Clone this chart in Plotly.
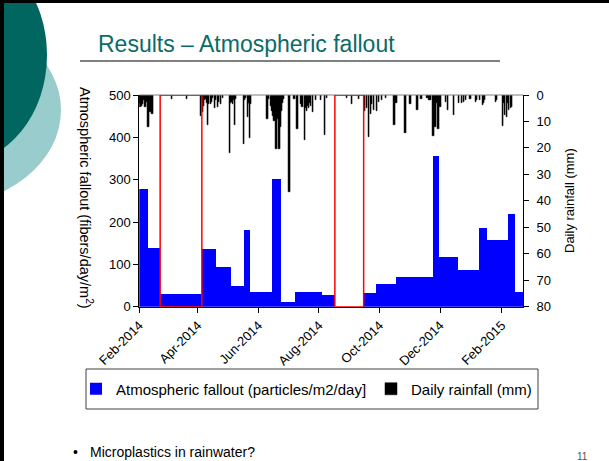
import pandas as pd
import plotly.graph_objects as go

# ---------------- data ----------------
fallout_start = ["2014-02-01", "2014-02-10", "2014-02-22", "2014-04-05", "2014-04-20",
                 "2014-05-05", "2014-05-18", "2014-05-24", "2014-06-15", "2014-06-24",
                 "2014-07-08", "2014-08-04", "2014-08-17", "2014-09-15", "2014-09-28",
                 "2014-10-18", "2014-11-24", "2014-11-30", "2014-12-19", "2015-01-09",
                 "2015-01-18", "2015-02-08", "2015-02-15"]
fallout_end = fallout_start[1:] + ["2015-02-23"]
fallout_value = [278, 139, 30, 136, 94, 49, 181, 35, 302, 12,
                 35, 28, 0, 32, 54, 70, 356, 117, 87, 186,
                 157, 219, 35]

rain_dates = [
    "2014-02-01", "2014-02-02", "2014-02-03", "2014-02-04", "2014-02-05", "2014-02-06",
    "2014-02-07", "2014-02-08", "2014-02-09", "2014-02-10", "2014-02-11", "2014-02-12",
    "2014-02-13", "2014-02-14", "2014-03-06", "2014-03-21",
    "2014-04-04", "2014-04-05", "2014-04-06", "2014-04-07", "2014-04-08", "2014-04-09",
    "2014-04-10", "2014-04-11", "2014-04-12", "2014-04-14", "2014-04-15", "2014-04-16",
    "2014-04-18", "2014-04-19", "2014-04-21", "2014-04-22", "2014-04-24", "2014-04-26",
    "2014-05-03", "2014-05-04", "2014-05-05", "2014-05-06", "2014-05-07", "2014-05-08",
    "2014-05-09", "2014-05-17", "2014-05-18", "2014-05-19", "2014-05-21", "2014-05-22",
    "2014-05-23", "2014-05-24",
    "2014-06-10", "2014-06-11", "2014-06-14", "2014-06-15", "2014-06-16", "2014-06-17",
    "2014-06-18", "2014-06-19", "2014-06-20", "2014-06-21", "2014-06-22", "2014-06-23",
    "2014-06-24", "2014-06-25", "2014-06-26",
    "2014-07-02", "2014-07-07", "2014-07-10", "2014-07-14", "2014-07-15", "2014-07-18",
    "2014-07-19", "2014-07-20", "2014-07-21", "2014-07-22", "2014-07-23", "2014-07-24",
    "2014-07-26", "2014-07-29",
    "2014-08-03", "2014-08-07", "2014-08-09", "2014-08-29",
    "2014-09-03", "2014-09-10", "2014-09-16", "2014-09-18", "2014-09-20", "2014-09-22",
    "2014-09-23", "2014-09-25", "2014-09-28", "2014-09-30",
    "2014-10-03", "2014-10-07", "2014-10-16", "2014-10-18", "2014-10-27",
    "2014-11-01", "2014-11-08", "2014-11-12", "2014-11-18", "2014-11-20", "2014-11-21",
    "2014-11-24", "2014-11-25", "2014-11-26", "2014-11-27", "2014-11-29",
    "2014-12-01", "2014-12-07", "2014-12-09", "2014-12-15", "2014-12-20", "2014-12-23",
    "2014-12-25", "2014-12-27", "2014-12-31",
    "2015-01-01", "2015-01-06", "2015-01-07", "2015-01-10", "2015-01-13", "2015-01-14",
    "2015-01-15", "2015-01-26", "2015-01-27",
    "2015-02-02", "2015-02-03", "2015-02-04", "2015-02-06", "2015-02-07", "2015-02-08",
    "2015-02-10", "2015-02-11",
]
rain_mm = [
    3.0, 4.5, 4.0, 3.5, 2.0, 1.5,
    4.5, 1.0, 2.5, 12.0, 2.0, 6.5,
    2.0, 7.0, 1.6, 1.4,
    8.0, 3.0, 6.4, 4.0, 2.0, 1.5,
    3.0, 11.5, 3.5, 3.5, 2.5, 1.0,
    5.0, 2.0, 4.5, 2.5, 3.5, 1.2,
    22.0, 3.0, 2.5, 3.5, 2.0, 11.5,
    1.5, 18.4, 2.0, 1.0, 8.3, 3.0,
    16.2, 3.3,
    9.0, 1.5, 4.0, 6.0, 8.0, 10.0,
    5.0, 20.3, 9.0, 7.0, 20.3, 12.0,
    6.0, 3.0, 1.5,
    36.7, 1.5, 13.0, 3.3, 4.5, 17.0,
    5.0, 6.0, 4.0, 5.0, 3.0, 4.0,
    6.5, 2.0,
    2.0, 15.0, 1.0, 1.0,
    3.5, 1.4, 6.0, 5.0, 15.9, 7.0,
    3.5, 5.6, 6.2, 2.5,
    2.0, 1.2, 11.2, 3.0, 14.2,
    3.5, 5.6, 1.5, 1.2, 2.0, 2.0,
    15.6, 4.0, 12.0, 3.0, 13.0,
    4.4, 2.5, 5.5, 7.4, 3.0, 3.0,
    2.5, 2.0, 1.5,
    1.5, 2.5, 2.0, 2.0, 3.6, 3.0,
    2.0, 2.5, 2.0,
    11.8, 3.0, 7.5, 8.2, 3.0, 5.5,
    5.0, 4.5,
]

tick_dates = ["2014-02-01", "2014-04-01", "2014-06-01", "2014-08-01",
              "2014-10-01", "2014-12-01", "2015-02-01"]
tick_labels = ["Feb-2014", "Apr-2014", "Jun-2014", "Aug-2014",
               "Oct-2014", "Dec-2014", "Feb-2015"]

highlight_start = ["2014-02-22", "2014-08-17"]
highlight_end = ["2014-04-05", "2014-09-15"]

x_range = ["2014-02-01", "2015-02-22 12:00"]

# ---------------- layout helpers ----------------
W, H = 609, 461
FONT = "Liberation Sans, Arial, sans-serif"


def px(x):
    return x / W


def py(y):
    return 1 - y / H


starts = pd.to_datetime(fallout_start)
ends = pd.to_datetime(fallout_end)
widths = [(e - s).total_seconds() * 1000 for s, e in zip(starts, ends)]

fig = go.Figure()
fig.add_trace(go.Bar(
    x=fallout_start, y=fallout_value, width=widths, offset=0,
    marker=dict(color="#0000FF", line=dict(width=0)),
    name="Atmospheric fallout (particles/m2/day]",
    yaxis="y",
))
fig.add_trace(go.Bar(
    x=rain_dates, y=rain_mm, width=1.4 * 86400000,
    marker=dict(color="#000000", line=dict(width=0.5, color="#000000")),
    name="Daily rainfall (mm)",
    yaxis="y2",
))

shapes = []
# slide decorations
shapes.append(dict(type="circle", xref="paper", yref="paper",
                   x0=px(-181), x1=px(61), y0=py(14.4), y1=py(205.6),
                   fillcolor="#99CCCC", line=dict(width=0), layer="above"))
shapes.append(dict(type="circle", xref="paper", yref="paper",
                   x0=px(-127), x1=px(47), y0=py(-52.5), y1=py(162.5),
                   fillcolor="#00665F", line=dict(width=0), layer="above"))
# slide frame (left and top black edges)
shapes.append(dict(type="rect", xref="paper", yref="paper",
                   x0=px(-6), x1=px(4), y0=py(470), y1=py(-10),
                   fillcolor="#000000", line=dict(width=0), layer="above"))
shapes.append(dict(type="rect", xref="paper", yref="paper",
                   x0=px(-10), x1=px(620), y0=py(3), y1=py(-8),
                   fillcolor="#000000", line=dict(width=0), layer="above"))
# title underline
shapes.append(dict(type="line", xref="paper", yref="paper",
                   x0=px(80), x1=px(500), y0=py(61), y1=py(61),
                   line=dict(color="#000000", width=1), layer="above"))
# top border of plot area
shapes.append(dict(type="line", xref="paper", yref="paper",
                   x0=px(139.3), x1=px(523), y0=py(95), y1=py(95),
                   line=dict(color="#808080", width=1), layer="above"))
# red highlight boxes
for s, e in zip(highlight_start, highlight_end):
    shapes.append(dict(type="rect", xref="x", yref="y",
                       x0=s, x1=e, y0=0, y1=500,
                       line=dict(color="#FF0000", width=1.5),
                       fillcolor="rgba(0,0,0,0)", layer="above"))
# legend frame
shapes.append(dict(type="rect", xref="paper", yref="paper",
                   x0=px(86), x1=px(538), y0=py(409), y1=py(369),
                   line=dict(color="#404040", width=1),
                   fillcolor="rgba(0,0,0,0)", layer="above"))

annotations = [
    dict(text="Results – Atmospheric fallout", x=px(96), y=py(44),
         xref="paper", yref="paper", xanchor="left", yanchor="middle",
         showarrow=False, font=dict(family=FONT, size=23, color="#0B6B66")),
    dict(text="Atmospheric fallout (fibers/day/m<sup>2</sup>)", textangle=90,
         x=px(86), y=py(198), xref="paper", yref="paper",
         xanchor="center", yanchor="middle", showarrow=False,
         font=dict(family=FONT, size=14.5, color="#000000")),
    dict(text="Daily rainfall (mm)", textangle=-90,
         x=px(569), y=py(201), xref="paper", yref="paper",
         xanchor="center", yanchor="middle", showarrow=False,
         font=dict(family=FONT, size=13, color="#000000")),
    dict(text="•", x=px(75), y=py(452), xref="paper", yref="paper",
         xanchor="center", yanchor="middle", showarrow=False,
         font=dict(family=FONT, size=14, color="#000000")),
    dict(text="Microplastics in rainwater?", x=px(88), y=py(452),
         xref="paper", yref="paper", xanchor="left", yanchor="middle",
         showarrow=False, font=dict(family=FONT, size=14, color="#000000")),
    dict(text="11", x=px(582), y=py(456), xref="paper", yref="paper",
         xanchor="center", yanchor="middle", showarrow=False,
         font=dict(family=FONT, size=10, color="#555555")),
]

axis_font = dict(family=FONT, size=13, color="#000000")

fig.update_layout(
    width=W, height=H,
    margin=dict(l=0, r=0, t=0, b=0, pad=0, autoexpand=False),
    paper_bgcolor="#FFFFFF", plot_bgcolor="rgba(0,0,0,0)",
    barmode="overlay", bargap=0,
    font=dict(family=FONT, size=13, color="#000000"),
    xaxis=dict(
        type="date", domain=[px(139.3), px(523)], range=x_range,
        tickmode="array", tickvals=tick_dates, ticktext=tick_labels,
        tickangle=-45, ticks="outside", ticklen=5, tickcolor="#000000",
        showline=True, linecolor="#000000", linewidth=1,
        showgrid=False, zeroline=False, tickfont=axis_font, anchor="y",
        automargin=False,
    ),
    yaxis=dict(
        domain=[py(306.7), py(95)], range=[0, 500], dtick=100,
        ticks="outside", ticklen=5, tickcolor="#000000",
        showline=True, linecolor="#000000", linewidth=1,
        showgrid=False, zeroline=False, tickfont=axis_font, automargin=False,
    ),
    yaxis2=dict(
        overlaying="y", side="right", range=[80, 0], dtick=10,
        ticks="outside", ticklen=5, tickcolor="#000000",
        showline=True, linecolor="#000000", linewidth=1,
        showgrid=False, zeroline=False, tickfont=axis_font, anchor="x",
        automargin=False, ticklabelstandoff=5,
    ),
    showlegend=True,
    legend=dict(orientation="h", x=px(76), y=py(389), xanchor="left", yanchor="middle",
                bgcolor="rgba(0,0,0,0)", borderwidth=0, entrywidth=250,
                traceorder="normal",
                font=dict(family=FONT, size=15, color="#000000")),
    shapes=shapes,
    annotations=annotations,
)

fig.write_html("out.html", config={"displayModeBar": False},
               post_script="document.body.style.margin='0px';")
